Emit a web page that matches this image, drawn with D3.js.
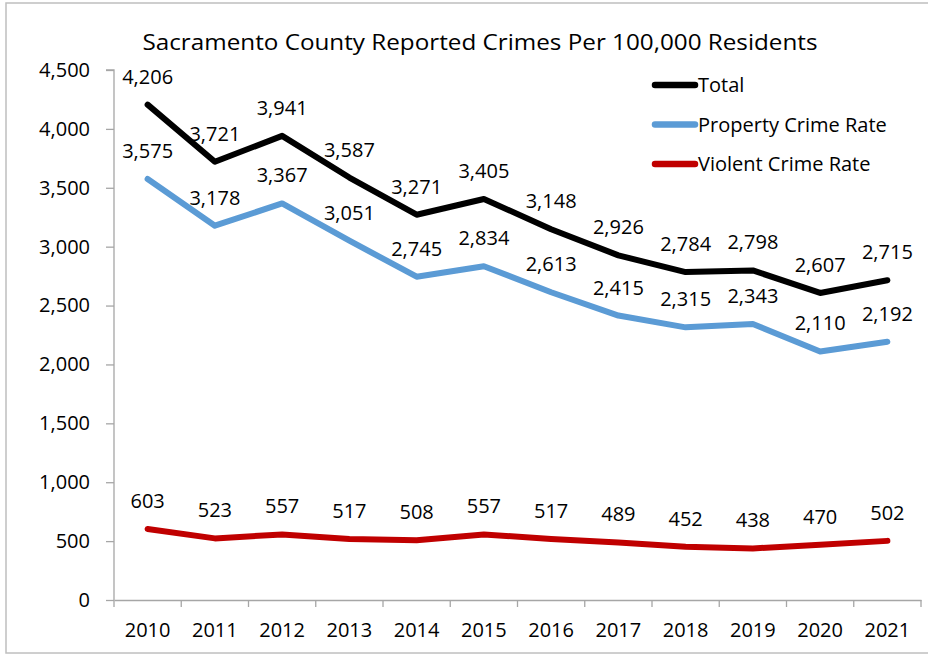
<!DOCTYPE html>
<html><head><meta charset="utf-8">
<script src="https://cdn.jsdelivr.net/npm/d3@7"></script>
<style>
body{margin:0;background:#fff;}
text{font-family:"Open Sans",Lato,sans-serif;fill:#000;}
</style></head>
<body>
<svg id="c" width="928" height="656"></svg>
<script>
const years = ["2010","2011","2012","2013","2014","2015","2016","2017","2018","2019","2020","2021"];
const totalRate = [4206,3721,3941,3587,3271,3405,3148,2926,2784,2798,2607,2715];
const propertyRate = [3575,3178,3367,3051,2745,2834,2613,2415,2315,2343,2110,2192];
const violentRate = [603,523,557,517,508,557,517,489,452,438,470,502];
const yTicks = [0,500,1000,1500,2000,2500,3000,3500,4000,4500];
const seriesNames = ["Total","Property Crime Rate","Violent Crime Rate"];
const seriesColors = ["#000000","#5b9bd5","#c00000"];
const title = "Sacramento County Reported Crimes Per 100,000 Residents";

const series = [totalRate, propertyRate, violentRate].map((v,i)=>({name:seriesNames[i], color:seriesColors[i], values:v}));

const svg = d3.select("#c");
// frame
svg.append("rect").attr("x",6).attr("y",3).attr("width",940).attr("height",650)
  .attr("fill","none").attr("stroke","#bfbfbf").attr("stroke-width",1.5);

const pLeft=114, pRight=921, pTop=70, pBottom=600;
const x = d3.scaleBand().domain(years).range([pLeft,pRight]);
const y = d3.scaleLinear().domain([0,4500]).range([pBottom,pTop]);
const fmt = d3.format(",");

const tt = svg.append("text").attr("x",480).attr("y",50).attr("text-anchor","middle")
  .style("font-size","22px").text(title);
const tw = tt.node().getComputedTextLength();
if (tw > 0) tt.attr("textLength", 675).attr("lengthAdjust","spacingAndGlyphs");

// y axis
const ya = svg.append("g").attr("transform",`translate(${pLeft},0)`)
  .call(d3.axisLeft(y).tickValues(yTicks).tickFormat(fmt).tickSize(8).tickPadding(16));
ya.select(".domain").attr("stroke","#a6a6a6").attr("stroke-width",1.3).attr("d",`M-8,${pTop}H0V${pBottom}`);
ya.selectAll(".tick line").attr("stroke","#a6a6a6").attr("stroke-width",1.3);
ya.selectAll(".tick text").style("font-size","20px").attr("fill","#000");

// x axis
const xa = svg.append("g").attr("transform",`translate(0,${pBottom})`)
  .call(d3.axisBottom(x).tickSize(0).tickPadding(23));
xa.select(".domain").attr("stroke","#a6a6a6").attr("stroke-width",1.3);
xa.selectAll(".tick text").style("font-size","20px").attr("fill","#000");
const bounds = years.map(d=>x(d)).concat([x(years[years.length-1])+x.bandwidth()]);
xa.selectAll(".bt").data(bounds).enter().append("line").attr("class","bt")
  .attr("x1",d=>d).attr("x2",d=>d).attr("y1",0).attr("y2",7)
  .attr("stroke","#a6a6a6").attr("stroke-width",1.3);

const line = d3.line().x((d,i)=>x(years[i])+x.bandwidth()/2).y(d=>y(d));

series.slice().reverse().forEach(s=>{
  svg.append("path").attr("d",line(s.values)).attr("fill","none")
    .attr("stroke",s.color).attr("stroke-width",6).attr("stroke-linejoin","round").attr("stroke-linecap","round");
});
series.forEach(s=>{
  svg.append("g").selectAll("text").data(s.values).enter().append("text")
    .attr("x",(d,i)=>x(years[i])+x.bandwidth()/2)
    .attr("y",d=>y(d)-21)
    .attr("text-anchor","middle").style("font-size","20px").text(d=>fmt(d));
});

// legend
const lg = svg.append("g");
series.forEach((s,i)=>{
  const yy = 85 + i*39.5;
  lg.append("line").attr("x1",655).attr("x2",695).attr("y1",yy).attr("y2",yy)
    .attr("stroke",s.color).attr("stroke-width",6.5).attr("stroke-linecap","round");
  lg.append("text").attr("x",698).attr("y",yy+7).style("font-size","20px").text(s.name);
});
</script>
</body></html>
